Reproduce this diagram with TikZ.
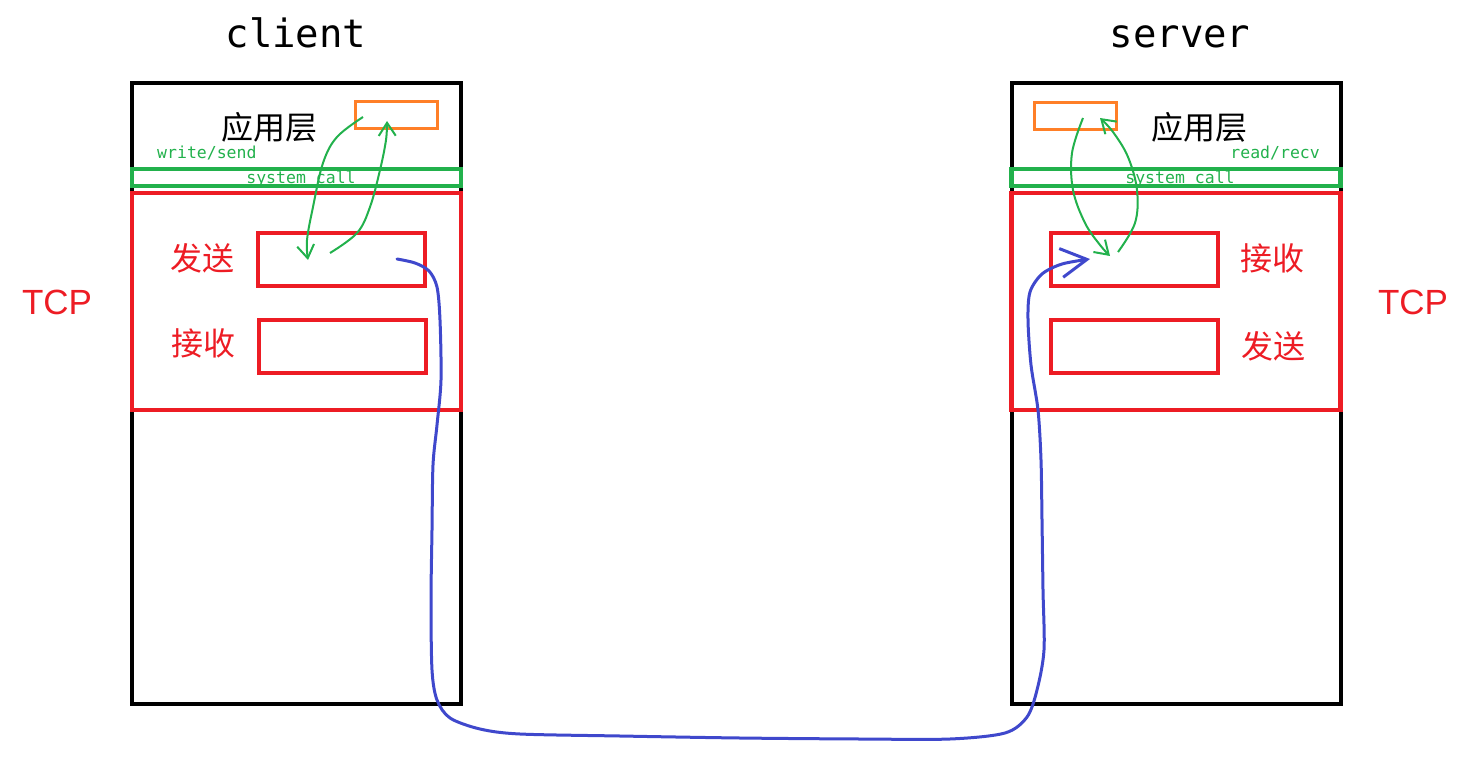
\documentclass[tikz,border=0pt]{standalone}
\usepackage{fontspec}
\setmainfont{Liberation Sans}
\newfontfamily\cjk{Noto Sans CJK SC}
\newfontfamily\monof{DejaVu Sans Mono}
\usetikzlibrary{arrows.meta}
\definecolor{pred}{RGB}{237,28,36}
\definecolor{pgreen}{RGB}{34,177,76}
\definecolor{porange}{RGB}{255,127,39}
\definecolor{pblue}{RGB}{63,72,204}
\begin{document}
\begin{tikzpicture}[x=1pt,y=-1pt,
  frame/.style={draw=black,line width=4pt,inner sep=0pt,minimum width=329pt,minimum height=621pt},
  callbar/.style={draw=pgreen,line width=4.5pt,inner sep=0pt,minimum width=329pt,minimum height=17pt},
  tcpbox/.style={draw=pred,line width=4.5pt,inner sep=0pt,minimum width=329pt,minimum height=217pt},
  buf/.style={draw=pred,line width=4pt,inner sep=0pt,minimum width=167pt,minimum height=53pt},
  appbuf/.style={draw=porange,line width=3pt,inner sep=0pt,minimum width=82pt,minimum height=27pt},
  title/.style={inner sep=0pt,anchor=base,font=\monof\fontsize{39}{39}\selectfont},
  small/.style={inner sep=0pt,text=pgreen,font=\monof\fontsize{16.5}{16.5}\selectfont},
  layer/.style={inner sep=0pt,font=\cjk\fontsize{32}{32}\selectfont},
  redlab/.style={inner sep=0pt,text=pred,font=\cjk\fontsize{32}{32}\selectfont},
  tcplab/.style={inner sep=0pt,text=pred,font=\fontsize{35}{35}\selectfont},
  garrow/.style={draw=pgreen,line width=2pt,-{Straight Barb[length=13pt,width=17pt]}},
  barrow/.style={draw=pblue,line width=3pt,line cap=round,line join=round,-{Straight Barb[length=26pt,width=29pt]}}
]
\useasboundingbox (0,0) rectangle (1477,762);

% ---------- client ----------
\node[title] (ctitle) at (296,48) {client};
\node[frame] (cframe) at (296.5,393.5) {};
\node[callbar] (cbar) at (296.5,177.5) {};
\node[tcpbox] (ctcp) at (296.5,301.5) {};
\node[buf] (csend) at (341.5,259.5) {};
\node[buf] (crecv) at (342.5,346.5) {};
\node[appbuf] (capp) at (396,115.5) {};
\node[layer] (clayer) at (269,127) {应用层};
\node[small,anchor=west] (cwrite) at (157,153) {write/send};
\node[small] (csys) at (301,179) {system call};
\node[redlab] (csendl) at (202,258) {发送};
\node[redlab] (crecvl) at (203,343) {接收};
\node[tcplab] (ctcpl) at (57,302) {TCP};

% ---------- server ----------
\node[title] (stitle) at (1180,48) {server};
\node[frame] (sframe) at (1176,393.5) {};
\node[callbar] (sbar) at (1176,177.5) {};
\node[tcpbox] (stcp) at (1176,301.5) {};
\node[buf] (srecv) at (1134.5,259.5) {};
\node[buf] (ssend) at (1134,346.5) {};
\node[appbuf] (sapp) at (1075.5,116) {};
\node[layer] (slayer) at (1199,127) {应用层};
\node[small,anchor=east] (sread) at (1320,153) {read/recv};
\node[small] (ssys) at (1180,179) {system call};
\node[redlab] (srecvl) at (1272,258) {接收};
\node[redlab] (ssendl) at (1273,346) {发送};
\node[tcplab] (stcpl) at (1413,302) {TCP};

% ---------- connector end points ----------
\coordinate (ga1) at (363,117);
\coordinate (ga2) at (308,260);
\coordinate (gb1) at (330,253);
\coordinate (gb2) at (387,121);
\coordinate (gc1) at (1083,118);
\coordinate (gc2) at (1110,256);
\coordinate (gd1) at (1118,252);
\coordinate (gd2) at (1100,118);
\coordinate (bs) at (397,259);
\coordinate (be) at (1090,259);

% green system-call arrows (client)
\draw[garrow] plot[smooth,tension=0.6] coordinates {(ga1) (337,137) (323,163) (313,207) (307,240) (ga2)};
\draw[garrow] plot[smooth,tension=0.6] coordinates {(gb1) (357,233) (370,207) (380,170) (386,140) (gb2)};
% green system-call arrows (server)
\draw[garrow] plot[smooth,tension=0.6] coordinates {(gc1) (1072,153) (1073,190) (1085,223) (1100,245) (gc2)};
\draw[garrow] plot[smooth,tension=0.6] coordinates {(gd1) (1135,223) (1137,190) (1128,157) (1113,132) (gd2)};

% blue data path
\draw[barrow] plot[smooth,tension=0.5] coordinates {(bs) (415,263) (429,271) (437,287) (440,320) (441,380) (437,425) (433,465) (432,530) (431,600) (432,670) (437,700) (450,718) (480,729) (520,734) (620,736) (740,738) (860,739) (950,739) (1005,733) (1027,717) (1037,690) (1044,650) (1043,590) (1042,520) (1041,460) (1038,410) (1031,365) (1028,320) (1030,292) (1042,274) (1062,264) (be)};
\end{tikzpicture}
\end{document}
